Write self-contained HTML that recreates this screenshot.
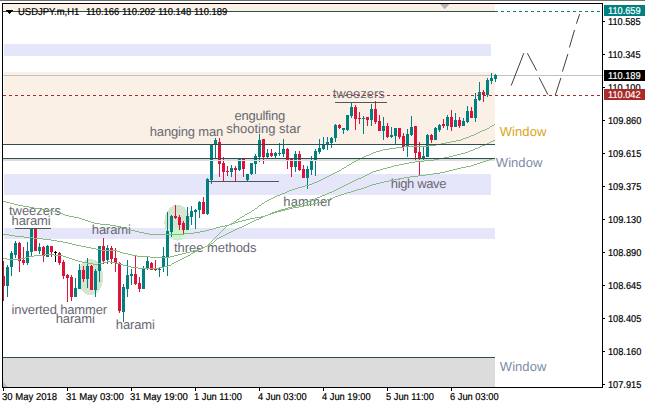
<!DOCTYPE html>
<html><head><meta charset="utf-8"><title>USDJPY H1</title>
<style>
html,body{margin:0;padding:0;background:#fff;}
body{width:645px;height:408px;position:relative;overflow:hidden;font-family:"Liberation Sans",sans-serif;text-rendering:geometricPrecision;}
div{position:absolute;}
.b{background:#e6e6fa;}
.lb{font-size:13px;line-height:15px;height:15px;white-space:nowrap;letter-spacing:-0.2px;}
.pr{-webkit-text-stroke:0.2px #000;left:608px;font-size:10px;line-height:12px;height:12px;letter-spacing:0;transform:scaleX(0.92);transform-origin:0 0;color:#000;white-space:nowrap;}
.tk{left:603px;width:2px;height:1px;background:#000;}
.vt{top:388px;width:1px;height:3px;background:#000;}
.tm{-webkit-text-stroke:0.2px #000;top:392px;font-size:10px;line-height:12px;letter-spacing:0;transform-origin:0 0;color:#000;white-space:nowrap;}
.hd{-webkit-text-stroke:0.2px #000;top:7px;font-size:10px;line-height:12px;letter-spacing:0;transform:scaleX(0.94);transform-origin:0 0;color:#000;white-space:nowrap;}
.bx{left:604px;width:41px;height:11px;color:#fff;-webkit-text-stroke:0.2px #fff;font-size:10px;line-height:11px;letter-spacing:-0.45px;}
.bx span{position:absolute;left:4px;top:1px;line-height:12px;letter-spacing:0;transform:scaleX(0.92);transform-origin:0 0;}
svg{position:absolute;left:0;top:0;}
</style></head><body>
<div style="left:0;top:0;width:645px;height:1px;background:#707070"></div>
<!-- background bands -->
<div style="left:3px;top:4px;width:492px;height:7px;background:#faf0e6"></div>
<div class="b" style="left:4px;top:44px;width:487px;height:12px"></div>
<div style="left:4px;top:72px;width:491px;height:72px;background:#faf0e6"></div>
<div class="b" style="left:4px;top:174px;width:487px;height:21px"></div>
<div class="b" style="left:4px;top:228px;width:491px;height:11px"></div>
<div style="left:3px;top:358px;width:492px;height:29px;background:#dcdcdc"></div>
<svg width="645" height="408" viewBox="0 0 645 408" shape-rendering="crispEdges">
<defs><clipPath id="lv"><rect x="4" y="228" width="491" height="11"/></clipPath></defs>
<!-- ellipses -->
<ellipse cx="90.4" cy="277.1" rx="12.8" ry="18.1" fill="#d5e5d0"/>
<ellipse cx="177.4" cy="222.6" rx="13" ry="18" fill="#d5e5d0"/>
<ellipse cx="177.4" cy="222.6" rx="13" ry="18" fill="#cdf5cd" clip-path="url(#lv)"/>
<!-- bid line (behind candles) -->
<rect x="3" y="159" width="492" height="1" fill="#dcdcdc"/>
<rect x="3" y="75" width="601" height="1" fill="#c0c0c0"/>
<polygon points="3,382 3,387 8,387" fill="#b8b8b8" shape-rendering="auto"/>
<polygon points="440,4 449.5,4 444.7,9.2" fill="#b4b4b4" shape-rendering="auto"/>
<rect x="3" y="261" width="1" height="40" fill="#dc143c"/><rect x="2" y="276" width="3" height="10" fill="#dc143c"/><rect x="7" y="265" width="1" height="32" fill="#008080"/><rect x="6" y="267" width="3" height="19" fill="#008080"/><rect x="11" y="251" width="1" height="25" fill="#008080"/><rect x="10" y="253" width="3" height="14" fill="#008080"/><rect x="15" y="241" width="1" height="17" fill="#008080"/><rect x="14" y="243" width="3" height="12" fill="#008080"/><rect x="19" y="242" width="1" height="30" fill="#dc143c"/><rect x="18" y="243" width="3" height="18" fill="#dc143c"/><rect x="23" y="247" width="1" height="18" fill="#dc143c"/><rect x="22" y="260" width="3" height="3" fill="#dc143c"/><rect x="27" y="242" width="1" height="23" fill="#008080"/><rect x="26" y="251" width="3" height="12" fill="#008080"/><rect x="31" y="229" width="1" height="28" fill="#008080"/><rect x="30" y="229" width="3" height="23" fill="#008080"/><rect x="35" y="229" width="1" height="22" fill="#dc143c"/><rect x="34" y="229" width="3" height="22" fill="#dc143c"/><rect x="39" y="243" width="1" height="11" fill="#008080"/><rect x="38" y="247" width="3" height="4" fill="#008080"/><rect x="43" y="246" width="1" height="16" fill="#dc143c"/><rect x="42" y="247" width="3" height="9" fill="#dc143c"/><rect x="47" y="245" width="1" height="12" fill="#008080"/><rect x="46" y="246" width="3" height="11" fill="#008080"/><rect x="51" y="246" width="1" height="11" fill="#dc143c"/><rect x="50" y="246" width="3" height="6" fill="#dc143c"/><rect x="55" y="251" width="1" height="11" fill="#000"/><rect x="54" y="252" width="3" height="1" fill="#000"/><rect x="59" y="252" width="1" height="13" fill="#dc143c"/><rect x="58" y="253" width="3" height="10" fill="#dc143c"/><rect x="63" y="260" width="1" height="19" fill="#dc143c"/><rect x="62" y="262" width="3" height="14" fill="#dc143c"/><rect x="67" y="274" width="1" height="28" fill="#dc143c"/><rect x="66" y="275" width="3" height="3" fill="#dc143c"/><rect x="71" y="275" width="1" height="26" fill="#dc143c"/><rect x="70" y="277" width="3" height="20" fill="#dc143c"/><rect x="75" y="278" width="1" height="19" fill="#008080"/><rect x="74" y="288" width="3" height="9" fill="#008080"/><rect x="79" y="264" width="1" height="25" fill="#008080"/><rect x="78" y="270" width="3" height="19" fill="#008080"/><rect x="83" y="266" width="1" height="16" fill="#dc143c"/><rect x="82" y="270" width="3" height="9" fill="#dc143c"/><rect x="87" y="258" width="1" height="30" fill="#008080"/><rect x="86" y="266" width="3" height="13" fill="#008080"/><rect x="91" y="265" width="1" height="25" fill="#dc143c"/><rect x="90" y="266" width="3" height="24" fill="#dc143c"/><rect x="95" y="269" width="1" height="28" fill="#008080"/><rect x="94" y="271" width="3" height="19" fill="#008080"/><rect x="99" y="246" width="1" height="36" fill="#008080"/><rect x="98" y="246" width="3" height="25" fill="#008080"/><rect x="103" y="238" width="1" height="26" fill="#dc143c"/><rect x="102" y="246" width="3" height="15" fill="#dc143c"/><rect x="107" y="245" width="1" height="19" fill="#008080"/><rect x="106" y="248" width="3" height="12" fill="#008080"/><rect x="111" y="246" width="1" height="18" fill="#dc143c"/><rect x="110" y="248" width="3" height="11" fill="#dc143c"/><rect x="115" y="248" width="1" height="24" fill="#dc143c"/><rect x="114" y="258" width="3" height="5" fill="#dc143c"/><rect x="119" y="262" width="1" height="51" fill="#dc143c"/><rect x="118" y="263" width="3" height="48" fill="#dc143c"/><rect x="123" y="284" width="1" height="38" fill="#008080"/><rect x="122" y="287" width="3" height="25" fill="#008080"/><rect x="127" y="260" width="1" height="37" fill="#008080"/><rect x="126" y="275" width="3" height="14" fill="#008080"/><rect x="131" y="269" width="1" height="16" fill="#008080"/><rect x="130" y="274" width="3" height="2" fill="#008080"/><rect x="135" y="256" width="1" height="29" fill="#dc143c"/><rect x="134" y="274" width="3" height="10" fill="#dc143c"/><rect x="139" y="277" width="1" height="15" fill="#dc143c"/><rect x="138" y="283" width="3" height="6" fill="#dc143c"/><rect x="143" y="266" width="1" height="23" fill="#008080"/><rect x="142" y="268" width="3" height="21" fill="#008080"/><rect x="147" y="257" width="1" height="13" fill="#008080"/><rect x="146" y="261" width="3" height="7" fill="#008080"/><rect x="151" y="262" width="1" height="8" fill="#dc143c"/><rect x="150" y="263" width="3" height="7" fill="#dc143c"/><rect x="155" y="260" width="1" height="11" fill="#dc143c"/><rect x="154" y="269" width="3" height="1" fill="#dc143c"/><rect x="159" y="267" width="1" height="10" fill="#008080"/><rect x="158" y="269" width="3" height="1" fill="#008080"/><rect x="163" y="247" width="1" height="25" fill="#008080"/><rect x="162" y="256" width="3" height="11" fill="#008080"/><rect x="167" y="212" width="1" height="64" fill="#008080"/><rect x="166" y="231" width="3" height="26" fill="#008080"/><rect x="171" y="215" width="1" height="22" fill="#008080"/><rect x="170" y="216" width="3" height="16" fill="#008080"/><rect x="175" y="205" width="1" height="14" fill="#dc143c"/><rect x="174" y="216" width="3" height="2" fill="#dc143c"/><rect x="179" y="215" width="1" height="15" fill="#dc143c"/><rect x="178" y="217" width="3" height="8" fill="#dc143c"/><rect x="183" y="221" width="1" height="13" fill="#dc143c"/><rect x="182" y="223" width="3" height="7" fill="#dc143c"/><rect x="187" y="207" width="1" height="23" fill="#008080"/><rect x="186" y="216" width="3" height="14" fill="#008080"/><rect x="191" y="206" width="1" height="19" fill="#008080"/><rect x="190" y="211" width="3" height="6" fill="#008080"/><rect x="195" y="209" width="1" height="20" fill="#008080"/><rect x="194" y="210" width="3" height="2" fill="#008080"/><rect x="199" y="201" width="1" height="17" fill="#008080"/><rect x="198" y="202" width="3" height="8" fill="#008080"/><rect x="203" y="197" width="1" height="17" fill="#dc143c"/><rect x="202" y="202" width="3" height="12" fill="#dc143c"/><rect x="207" y="178" width="1" height="37" fill="#008080"/><rect x="206" y="179" width="3" height="35" fill="#008080"/><rect x="211" y="144" width="1" height="40" fill="#008080"/><rect x="210" y="144" width="3" height="36" fill="#008080"/><rect x="215" y="138" width="1" height="20" fill="#008080"/><rect x="214" y="140" width="3" height="5" fill="#008080"/><rect x="219" y="138" width="1" height="39" fill="#dc143c"/><rect x="218" y="142" width="3" height="22" fill="#dc143c"/><rect x="223" y="157" width="1" height="24" fill="#dc143c"/><rect x="222" y="163" width="3" height="9" fill="#dc143c"/><rect x="227" y="166" width="1" height="10" fill="#dc143c"/><rect x="226" y="171" width="3" height="1" fill="#dc143c"/><rect x="231" y="165" width="1" height="12" fill="#008080"/><rect x="230" y="168" width="3" height="4" fill="#008080"/><rect x="235" y="166" width="1" height="15" fill="#dc143c"/><rect x="234" y="168" width="3" height="2" fill="#dc143c"/><rect x="239" y="159" width="1" height="12" fill="#008080"/><rect x="238" y="159" width="3" height="11" fill="#008080"/><rect x="243" y="159" width="1" height="18" fill="#dc143c"/><rect x="242" y="159" width="3" height="10" fill="#dc143c"/><rect x="247" y="174" width="1" height="7" fill="#008080"/><rect x="246" y="174" width="3" height="6" fill="#008080"/><rect x="251" y="163" width="1" height="12" fill="#008080"/><rect x="250" y="163" width="3" height="11" fill="#008080"/><rect x="255" y="154" width="1" height="20" fill="#008080"/><rect x="254" y="156" width="3" height="8" fill="#008080"/><rect x="259" y="134" width="1" height="28" fill="#008080"/><rect x="258" y="140" width="3" height="17" fill="#008080"/><rect x="263" y="139" width="1" height="25" fill="#dc143c"/><rect x="262" y="139" width="3" height="18" fill="#dc143c"/><rect x="267" y="149" width="1" height="9" fill="#008080"/><rect x="266" y="153" width="3" height="4" fill="#008080"/><rect x="271" y="149" width="1" height="8" fill="#dc143c"/><rect x="270" y="153" width="3" height="3" fill="#dc143c"/><rect x="275" y="152" width="1" height="6" fill="#008080"/><rect x="274" y="153" width="3" height="3" fill="#008080"/><rect x="279" y="143" width="1" height="13" fill="#008080"/><rect x="278" y="153" width="3" height="1" fill="#008080"/><rect x="283" y="139" width="1" height="18" fill="#008080"/><rect x="282" y="149" width="3" height="5" fill="#008080"/><rect x="287" y="148" width="1" height="21" fill="#dc143c"/><rect x="286" y="149" width="3" height="11" fill="#dc143c"/><rect x="291" y="159" width="1" height="18" fill="#dc143c"/><rect x="290" y="159" width="3" height="8" fill="#dc143c"/><rect x="295" y="151" width="1" height="21" fill="#008080"/><rect x="294" y="154" width="3" height="13" fill="#008080"/><rect x="299" y="151" width="1" height="20" fill="#dc143c"/><rect x="298" y="154" width="3" height="16" fill="#dc143c"/><rect x="303" y="165" width="1" height="13" fill="#dc143c"/><rect x="302" y="169" width="3" height="9" fill="#dc143c"/><rect x="307" y="166" width="1" height="23" fill="#008080"/><rect x="306" y="169" width="3" height="9" fill="#008080"/><rect x="311" y="156" width="1" height="19" fill="#008080"/><rect x="310" y="161" width="3" height="9" fill="#008080"/><rect x="315" y="149" width="1" height="27" fill="#008080"/><rect x="314" y="151" width="3" height="9" fill="#008080"/><rect x="319" y="139" width="1" height="15" fill="#008080"/><rect x="318" y="148" width="3" height="4" fill="#008080"/><rect x="323" y="137" width="1" height="13" fill="#008080"/><rect x="322" y="144" width="3" height="5" fill="#008080"/><rect x="327" y="137" width="1" height="13" fill="#008080"/><rect x="326" y="142" width="3" height="2" fill="#008080"/><rect x="331" y="137" width="1" height="11" fill="#008080"/><rect x="330" y="138" width="3" height="5" fill="#008080"/><rect x="335" y="124" width="1" height="18" fill="#008080"/><rect x="334" y="125" width="3" height="13" fill="#008080"/><rect x="339" y="124" width="1" height="5" fill="#dc143c"/><rect x="338" y="125" width="3" height="3" fill="#dc143c"/><rect x="343" y="128" width="1" height="6" fill="#008080"/><rect x="342" y="128" width="3" height="2" fill="#008080"/><rect x="347" y="115" width="1" height="16" fill="#008080"/><rect x="346" y="115" width="3" height="15" fill="#008080"/><rect x="351" y="103" width="1" height="15" fill="#008080"/><rect x="350" y="107" width="3" height="9" fill="#008080"/><rect x="355" y="105" width="1" height="25" fill="#dc143c"/><rect x="354" y="107" width="3" height="12" fill="#dc143c"/><rect x="359" y="112" width="1" height="12" fill="#dc143c"/><rect x="358" y="118" width="3" height="1" fill="#dc143c"/><rect x="363" y="116" width="1" height="18" fill="#008080"/><rect x="362" y="118" width="3" height="1" fill="#008080"/><rect x="367" y="117" width="1" height="9" fill="#dc143c"/><rect x="366" y="117" width="3" height="3" fill="#dc143c"/><rect x="371" y="104" width="1" height="22" fill="#008080"/><rect x="370" y="109" width="3" height="11" fill="#008080"/><rect x="375" y="101" width="1" height="23" fill="#dc143c"/><rect x="374" y="109" width="3" height="13" fill="#dc143c"/><rect x="379" y="115" width="1" height="16" fill="#dc143c"/><rect x="378" y="121" width="3" height="10" fill="#dc143c"/><rect x="383" y="117" width="1" height="23" fill="#008080"/><rect x="382" y="126" width="3" height="5" fill="#008080"/><rect x="387" y="123" width="1" height="15" fill="#dc143c"/><rect x="386" y="126" width="3" height="11" fill="#dc143c"/><rect x="391" y="127" width="1" height="11" fill="#008080"/><rect x="390" y="135" width="3" height="2" fill="#008080"/><rect x="395" y="128" width="1" height="16" fill="#008080"/><rect x="394" y="128" width="3" height="8" fill="#008080"/><rect x="399" y="128" width="1" height="11" fill="#dc143c"/><rect x="398" y="128" width="3" height="9" fill="#dc143c"/><rect x="403" y="133" width="1" height="18" fill="#dc143c"/><rect x="402" y="136" width="3" height="11" fill="#dc143c"/><rect x="407" y="129" width="1" height="28" fill="#008080"/><rect x="406" y="134" width="3" height="13" fill="#008080"/><rect x="411" y="116" width="1" height="20" fill="#008080"/><rect x="410" y="127" width="3" height="8" fill="#008080"/><rect x="415" y="126" width="1" height="34" fill="#dc143c"/><rect x="414" y="126" width="3" height="27" fill="#dc143c"/><rect x="419" y="142" width="1" height="33" fill="#dc143c"/><rect x="418" y="152" width="3" height="7" fill="#dc143c"/><rect x="423" y="146" width="1" height="16" fill="#008080"/><rect x="422" y="156" width="3" height="3" fill="#008080"/><rect x="427" y="134" width="1" height="23" fill="#008080"/><rect x="426" y="135" width="3" height="22" fill="#008080"/><rect x="431" y="134" width="1" height="9" fill="#dc143c"/><rect x="430" y="135" width="3" height="5" fill="#dc143c"/><rect x="435" y="127" width="1" height="13" fill="#008080"/><rect x="434" y="128" width="3" height="12" fill="#008080"/><rect x="439" y="124" width="1" height="8" fill="#008080"/><rect x="438" y="125" width="3" height="5" fill="#008080"/><rect x="443" y="119" width="1" height="9" fill="#dc143c"/><rect x="442" y="124" width="3" height="2" fill="#dc143c"/><rect x="447" y="115" width="1" height="15" fill="#008080"/><rect x="446" y="117" width="3" height="9" fill="#008080"/><rect x="451" y="110" width="1" height="21" fill="#dc143c"/><rect x="450" y="117" width="3" height="10" fill="#dc143c"/><rect x="455" y="113" width="1" height="14" fill="#008080"/><rect x="454" y="120" width="3" height="7" fill="#008080"/><rect x="459" y="117" width="1" height="11" fill="#dc143c"/><rect x="458" y="120" width="3" height="6" fill="#dc143c"/><rect x="463" y="118" width="1" height="8" fill="#008080"/><rect x="462" y="121" width="3" height="5" fill="#008080"/><rect x="467" y="106" width="1" height="17" fill="#008080"/><rect x="466" y="111" width="3" height="11" fill="#008080"/><rect x="471" y="107" width="1" height="11" fill="#dc143c"/><rect x="470" y="111" width="3" height="7" fill="#dc143c"/><rect x="475" y="93" width="1" height="29" fill="#008080"/><rect x="474" y="99" width="3" height="19" fill="#008080"/><rect x="479" y="82" width="1" height="19" fill="#008080"/><rect x="478" y="92" width="3" height="8" fill="#008080"/><rect x="483" y="90" width="1" height="12" fill="#dc143c"/><rect x="482" y="92" width="3" height="3" fill="#dc143c"/><rect x="487" y="78" width="1" height="19" fill="#008080"/><rect x="486" y="80" width="3" height="15" fill="#008080"/><rect x="491" y="73" width="1" height="11" fill="#008080"/><rect x="490" y="78" width="3" height="3" fill="#008080"/><rect x="495" y="74" width="1" height="8" fill="#008080"/><rect x="494" y="75" width="3" height="4" fill="#008080"/>
<!-- horizontal lines (in front of candles) -->
<rect x="3" y="11" width="492" height="1" fill="#2f4f4f"/>
<line x1="495" y1="11.5" x2="601" y2="11.5" stroke="#008080" stroke-dasharray="3 3"/>
<line x1="3" y1="95.5" x2="602" y2="95.5" stroke="#a82a2a" stroke-dasharray="3 3"/>
<rect x="3" y="144" width="492" height="1" fill="#2f4f4f"/>
<rect x="3" y="158" width="492" height="1" fill="#2f4f4f"/>
<rect x="3" y="160" width="492" height="1" fill="#dcdcdc"/>
<rect x="3" y="357" width="492" height="1" fill="#2f4f4f"/>
<!-- marker lines -->
<rect x="15" y="228" width="36" height="1" fill="#555"/>
<rect x="207" y="181" width="72" height="1" fill="#555"/>
<rect x="335" y="102" width="52" height="1" fill="#555"/>
<!-- projection zigzag -->
<g stroke="#404040" stroke-width="1" fill="none" shape-rendering="auto">
<line x1="511.2" y1="85.6" x2="523.8" y2="53.2"/>
<line x1="527.4" y1="53.2" x2="536.6" y2="70.6"/>
<line x1="539.1" y1="77.5" x2="547.9" y2="94.7"/>
<line x1="555.3" y1="95.1" x2="560.9" y2="77.9"/>
<line x1="562.4" y1="71.6" x2="567.9" y2="54"/>
<line x1="569.4" y1="47.4" x2="574.5" y2="30"/>
<line x1="576.4" y1="23.7" x2="579.7" y2="14.1"/>
</g>
<!-- frame -->
<rect x="2" y="3" width="601" height="1" fill="#000"/>
<rect x="2" y="3" width="1" height="385" fill="#000"/>
<rect x="602" y="3" width="1" height="385" fill="#000"/>
<rect x="2" y="387" width="601" height="1" fill="#000"/>
<path d="M6 10h7v1h-1v1h-1v1h-1v1h-1v-1h-1v-1h-1v-1h-1z" fill="#000"/>
</svg>
<div class="lb" style="left:8.9px;top:203px;color:#686872;letter-spacing:0px">tweezers</div><div class="lb" style="left:11.6px;top:213px;color:#686872;letter-spacing:-0.13px">harami</div><div class="lb" style="left:91.8px;top:222px;color:#686872;letter-spacing:-0.13px">harami</div><div class="lb" style="left:11.6px;top:302px;color:#686872;letter-spacing:-0.14px">inverted hammer</div><div class="lb" style="left:55.7px;top:311px;color:#686872;letter-spacing:-0.13px">harami</div><div class="lb" style="left:115.8px;top:317px;color:#686872;letter-spacing:-0.13px">harami</div><div class="lb" style="left:174.0px;top:240px;color:#686872;letter-spacing:-0.05px">three methods</div><div class="lb" style="left:149.8px;top:124px;color:#686872;letter-spacing:-0.17px">hanging man</div><div class="lb" style="left:234.5px;top:108px;color:#686872;letter-spacing:-0.26px">engulfing</div><div class="lb" style="left:226.3px;top:121px;color:#686872;letter-spacing:0px">shooting star</div><div class="lb" style="left:283.3px;top:194px;color:#686872;letter-spacing:0.12px">hammer</div><div class="lb" style="left:332.7px;top:86px;color:#686872;letter-spacing:0px">tweezers</div><div class="lb" style="left:390.8px;top:176px;color:#686872;letter-spacing:-0.37px">high wave</div><div class="lb" style="left:499.7px;top:124px;color:#daa520;letter-spacing:0.08px">Window</div><div class="lb" style="left:495.8px;top:155px;color:#7d8ca6;letter-spacing:0.06px">Window</div><div class="lb" style="left:499.8px;top:359px;color:#7d8ca6;letter-spacing:0.06px">Window</div>
<svg width="645" height="408" viewBox="0 0 645 408" shape-rendering="crispEdges"><g fill="#88b983"><rect x="3" y="201" width="3" height="1"/><rect x="6" y="202" width="4" height="1"/><rect x="10" y="203" width="4" height="1"/><rect x="14" y="204" width="4" height="1"/><rect x="18" y="205" width="5" height="1"/><rect x="23" y="206" width="6" height="1"/><rect x="29" y="207" width="5" height="1"/><rect x="34" y="208" width="6" height="1"/><rect x="40" y="209" width="6" height="1"/><rect x="46" y="210" width="7" height="1"/><rect x="53" y="211" width="4" height="1"/><rect x="57" y="212" width="3" height="1"/><rect x="60" y="213" width="3" height="1"/><rect x="63" y="214" width="2" height="1"/><rect x="65" y="215" width="4" height="1"/><rect x="69" y="216" width="5" height="1"/><rect x="74" y="217" width="5" height="1"/><rect x="79" y="218" width="3" height="1"/><rect x="82" y="219" width="3" height="1"/><rect x="85" y="220" width="3" height="1"/><rect x="88" y="221" width="3" height="1"/><rect x="91" y="222" width="3" height="1"/><rect x="94" y="223" width="6" height="1"/><rect x="100" y="224" width="10" height="1"/><rect x="110" y="225" width="6" height="1"/><rect x="116" y="226" width="5" height="1"/><rect x="121" y="227" width="3" height="1"/><rect x="124" y="228" width="3" height="1"/><rect x="127" y="229" width="4" height="1"/><rect x="131" y="230" width="4" height="1"/><rect x="135" y="231" width="4" height="1"/><rect x="139" y="232" width="5" height="1"/><rect x="144" y="233" width="5" height="1"/><rect x="149" y="234" width="35" height="1"/><rect x="184" y="233" width="10" height="1"/><rect x="194" y="232" width="6" height="1"/><rect x="200" y="231" width="5" height="1"/><rect x="205" y="230" width="4" height="1"/><rect x="209" y="229" width="4" height="1"/><rect x="213" y="228" width="3" height="1"/><rect x="216" y="227" width="4" height="1"/><rect x="220" y="226" width="5" height="1"/><rect x="225" y="225" width="4" height="1"/><rect x="229" y="224" width="3" height="1"/><rect x="232" y="223" width="3" height="1"/><rect x="235" y="222" width="3" height="1"/><rect x="238" y="221" width="4" height="1"/><rect x="242" y="220" width="4" height="1"/><rect x="246" y="219" width="4" height="1"/><rect x="250" y="218" width="5" height="1"/><rect x="255" y="217" width="6" height="1"/><rect x="261" y="216" width="4" height="1"/><rect x="265" y="215" width="3" height="1"/><rect x="268" y="214" width="3" height="1"/><rect x="271" y="213" width="3" height="1"/><rect x="274" y="212" width="3" height="1"/><rect x="277" y="211" width="4" height="1"/><rect x="281" y="210" width="4" height="1"/><rect x="285" y="209" width="4" height="1"/><rect x="289" y="208" width="4" height="1"/><rect x="293" y="207" width="6" height="1"/><rect x="299" y="206" width="5" height="1"/><rect x="304" y="205" width="5" height="1"/><rect x="309" y="204" width="4" height="1"/><rect x="313" y="203" width="4" height="1"/><rect x="317" y="202" width="4" height="1"/><rect x="321" y="201" width="3" height="1"/><rect x="324" y="200" width="3" height="1"/><rect x="327" y="199" width="3" height="1"/><rect x="330" y="198" width="3" height="1"/><rect x="333" y="197" width="2" height="1"/><rect x="335" y="196" width="3" height="1"/><rect x="338" y="195" width="3" height="1"/><rect x="341" y="194" width="3" height="1"/><rect x="344" y="193" width="3" height="1"/><rect x="347" y="192" width="4" height="1"/><rect x="351" y="191" width="3" height="1"/><rect x="354" y="190" width="3" height="1"/><rect x="357" y="189" width="4" height="1"/><rect x="361" y="188" width="3" height="1"/><rect x="364" y="187" width="3" height="1"/><rect x="367" y="186" width="2" height="1"/><rect x="369" y="185" width="3" height="1"/><rect x="372" y="184" width="4" height="1"/><rect x="376" y="183" width="4" height="1"/><rect x="380" y="182" width="4" height="1"/><rect x="384" y="181" width="5" height="1"/><rect x="389" y="180" width="5" height="1"/><rect x="394" y="179" width="5" height="1"/><rect x="399" y="178" width="5" height="1"/><rect x="404" y="177" width="6" height="1"/><rect x="410" y="176" width="8" height="1"/><rect x="418" y="175" width="8" height="1"/><rect x="426" y="174" width="7" height="1"/><rect x="433" y="173" width="7" height="1"/><rect x="440" y="172" width="5" height="1"/><rect x="445" y="171" width="4" height="1"/><rect x="449" y="170" width="4" height="1"/><rect x="453" y="169" width="4" height="1"/><rect x="457" y="168" width="4" height="1"/><rect x="461" y="167" width="5" height="1"/><rect x="466" y="166" width="5" height="1"/><rect x="471" y="165" width="3" height="1"/><rect x="474" y="164" width="3" height="1"/><rect x="477" y="163" width="3" height="1"/><rect x="480" y="162" width="3" height="1"/><rect x="483" y="161" width="3" height="1"/><rect x="486" y="160" width="3" height="1"/><rect x="489" y="159" width="3" height="1"/><rect x="492" y="158" width="3" height="1"/><rect x="3" y="234" width="6" height="1"/><rect x="9" y="235" width="6" height="1"/><rect x="15" y="236" width="9" height="1"/><rect x="24" y="237" width="9" height="1"/><rect x="33" y="238" width="10" height="1"/><rect x="43" y="239" width="8" height="1"/><rect x="51" y="240" width="6" height="1"/><rect x="57" y="241" width="6" height="1"/><rect x="63" y="242" width="5" height="1"/><rect x="68" y="243" width="4" height="1"/><rect x="72" y="244" width="4" height="1"/><rect x="76" y="245" width="5" height="1"/><rect x="81" y="246" width="5" height="1"/><rect x="86" y="247" width="5" height="1"/><rect x="91" y="248" width="5" height="1"/><rect x="96" y="249" width="5" height="1"/><rect x="101" y="250" width="16" height="1"/><rect x="117" y="251" width="3" height="1"/><rect x="120" y="252" width="3" height="1"/><rect x="123" y="253" width="5" height="1"/><rect x="128" y="254" width="4" height="1"/><rect x="132" y="255" width="5" height="1"/><rect x="137" y="256" width="13" height="1"/><rect x="150" y="257" width="20" height="1"/><rect x="170" y="256" width="4" height="1"/><rect x="174" y="255" width="4" height="1"/><rect x="178" y="254" width="4" height="1"/><rect x="182" y="253" width="4" height="1"/><rect x="186" y="252" width="4" height="1"/><rect x="190" y="251" width="3" height="1"/><rect x="193" y="250" width="4" height="1"/><rect x="197" y="249" width="4" height="1"/><rect x="201" y="248" width="2" height="1"/><rect x="203" y="247" width="2" height="1"/><rect x="205" y="246" width="2" height="1"/><rect x="207" y="245" width="2" height="1"/><rect x="209" y="244" width="2" height="1"/><rect x="211" y="243" width="2" height="1"/><rect x="213" y="242" width="1" height="1"/><rect x="214" y="241" width="1" height="1"/><rect x="215" y="240" width="1" height="1"/><rect x="216" y="239" width="1" height="1"/><rect x="217" y="238" width="2" height="1"/><rect x="219" y="237" width="2" height="1"/><rect x="221" y="236" width="2" height="1"/><rect x="223" y="235" width="2" height="1"/><rect x="225" y="234" width="2" height="1"/><rect x="227" y="233" width="2" height="1"/><rect x="229" y="232" width="2" height="1"/><rect x="231" y="231" width="2" height="1"/><rect x="233" y="230" width="2" height="1"/><rect x="235" y="229" width="2" height="1"/><rect x="237" y="228" width="2" height="1"/><rect x="239" y="227" width="3" height="1"/><rect x="242" y="226" width="2" height="1"/><rect x="244" y="225" width="2" height="1"/><rect x="246" y="224" width="2" height="1"/><rect x="248" y="223" width="2" height="1"/><rect x="250" y="222" width="2" height="1"/><rect x="252" y="221" width="2" height="1"/><rect x="254" y="220" width="2" height="1"/><rect x="256" y="219" width="3" height="1"/><rect x="259" y="218" width="2" height="1"/><rect x="261" y="217" width="2" height="1"/><rect x="263" y="216" width="2" height="1"/><rect x="265" y="215" width="3" height="1"/><rect x="268" y="214" width="2" height="1"/><rect x="270" y="213" width="2" height="1"/><rect x="272" y="212" width="3" height="1"/><rect x="275" y="211" width="3" height="1"/><rect x="278" y="210" width="3" height="1"/><rect x="281" y="209" width="4" height="1"/><rect x="285" y="208" width="3" height="1"/><rect x="288" y="207" width="4" height="1"/><rect x="292" y="206" width="4" height="1"/><rect x="296" y="205" width="3" height="1"/><rect x="299" y="204" width="3" height="1"/><rect x="302" y="203" width="3" height="1"/><rect x="305" y="202" width="3" height="1"/><rect x="308" y="201" width="2" height="1"/><rect x="310" y="200" width="3" height="1"/><rect x="313" y="199" width="2" height="1"/><rect x="315" y="198" width="2" height="1"/><rect x="317" y="197" width="3" height="1"/><rect x="320" y="196" width="2" height="1"/><rect x="322" y="195" width="3" height="1"/><rect x="325" y="194" width="2" height="1"/><rect x="327" y="193" width="2" height="1"/><rect x="329" y="192" width="3" height="1"/><rect x="332" y="191" width="2" height="1"/><rect x="334" y="190" width="2" height="1"/><rect x="336" y="189" width="2" height="1"/><rect x="338" y="188" width="2" height="1"/><rect x="340" y="187" width="2" height="1"/><rect x="342" y="186" width="2" height="1"/><rect x="344" y="185" width="2" height="1"/><rect x="346" y="184" width="2" height="1"/><rect x="348" y="183" width="2" height="1"/><rect x="350" y="182" width="2" height="1"/><rect x="352" y="181" width="2" height="1"/><rect x="354" y="180" width="2" height="1"/><rect x="356" y="179" width="2" height="1"/><rect x="358" y="178" width="3" height="1"/><rect x="361" y="177" width="2" height="1"/><rect x="363" y="176" width="2" height="1"/><rect x="365" y="175" width="2" height="1"/><rect x="367" y="174" width="2" height="1"/><rect x="369" y="173" width="2" height="1"/><rect x="371" y="172" width="2" height="1"/><rect x="373" y="171" width="3" height="1"/><rect x="376" y="170" width="4" height="1"/><rect x="380" y="169" width="3" height="1"/><rect x="383" y="168" width="4" height="1"/><rect x="387" y="167" width="4" height="1"/><rect x="391" y="166" width="3" height="1"/><rect x="394" y="165" width="5" height="1"/><rect x="399" y="164" width="5" height="1"/><rect x="404" y="163" width="5" height="1"/><rect x="409" y="162" width="6" height="1"/><rect x="415" y="161" width="9" height="1"/><rect x="424" y="160" width="10" height="1"/><rect x="434" y="159" width="5" height="1"/><rect x="439" y="158" width="5" height="1"/><rect x="444" y="157" width="5" height="1"/><rect x="449" y="156" width="4" height="1"/><rect x="453" y="155" width="4" height="1"/><rect x="457" y="154" width="4" height="1"/><rect x="461" y="153" width="4" height="1"/><rect x="465" y="152" width="3" height="1"/><rect x="468" y="151" width="2" height="1"/><rect x="470" y="150" width="3" height="1"/><rect x="473" y="149" width="2" height="1"/><rect x="475" y="148" width="3" height="1"/><rect x="478" y="147" width="2" height="1"/><rect x="480" y="146" width="2" height="1"/><rect x="482" y="145" width="3" height="1"/><rect x="485" y="144" width="2" height="1"/><rect x="487" y="143" width="2" height="1"/><rect x="489" y="142" width="2" height="1"/><rect x="491" y="141" width="2" height="1"/><rect x="493" y="140" width="2" height="1"/><rect x="3" y="258" width="4" height="1"/><rect x="7" y="259" width="13" height="1"/><rect x="20" y="258" width="5" height="1"/><rect x="25" y="257" width="4" height="1"/><rect x="29" y="256" width="5" height="1"/><rect x="34" y="255" width="10" height="1"/><rect x="44" y="254" width="10" height="1"/><rect x="54" y="255" width="9" height="1"/><rect x="63" y="256" width="3" height="1"/><rect x="66" y="257" width="3" height="1"/><rect x="69" y="258" width="3" height="1"/><rect x="72" y="259" width="3" height="1"/><rect x="75" y="260" width="3" height="1"/><rect x="78" y="261" width="4" height="1"/><rect x="82" y="262" width="5" height="1"/><rect x="87" y="263" width="6" height="1"/><rect x="93" y="264" width="5" height="1"/><rect x="98" y="263" width="5" height="1"/><rect x="103" y="262" width="4" height="1"/><rect x="107" y="261" width="3" height="1"/><rect x="110" y="262" width="6" height="1"/><rect x="116" y="263" width="4" height="1"/><rect x="120" y="264" width="3" height="1"/><rect x="123" y="265" width="4" height="1"/><rect x="127" y="266" width="4" height="1"/><rect x="131" y="267" width="7" height="1"/><rect x="138" y="268" width="21" height="1"/><rect x="159" y="267" width="5" height="1"/><rect x="164" y="266" width="4" height="1"/><rect x="168" y="265" width="3" height="1"/><rect x="171" y="264" width="1" height="1"/><rect x="172" y="263" width="2" height="1"/><rect x="174" y="262" width="2" height="1"/><rect x="176" y="261" width="2" height="1"/><rect x="178" y="260" width="2" height="1"/><rect x="180" y="259" width="2" height="1"/><rect x="182" y="258" width="2" height="1"/><rect x="184" y="257" width="2" height="1"/><rect x="186" y="256" width="2" height="1"/><rect x="188" y="255" width="2" height="1"/><rect x="190" y="254" width="1" height="1"/><rect x="191" y="253" width="2" height="1"/><rect x="193" y="252" width="2" height="1"/><rect x="195" y="251" width="2" height="1"/><rect x="197" y="250" width="1" height="1"/><rect x="198" y="249" width="2" height="1"/><rect x="200" y="248" width="3" height="1"/><rect x="203" y="247" width="2" height="1"/><rect x="205" y="246" width="2" height="1"/><rect x="207" y="245" width="1" height="1"/><rect x="208" y="244" width="1" height="1"/><rect x="209" y="243" width="1" height="1"/><rect x="210" y="242" width="1" height="1"/><rect x="211" y="241" width="1" height="1"/><rect x="212" y="240" width="1" height="1"/><rect x="213" y="239" width="1" height="1"/><rect x="214" y="238" width="1" height="1"/><rect x="215" y="237" width="1" height="1"/><rect x="216" y="236" width="1" height="1"/><rect x="217" y="235" width="1" height="1"/><rect x="218" y="234" width="1" height="1"/><rect x="219" y="233" width="1" height="1"/><rect x="220" y="232" width="1" height="1"/><rect x="221" y="231" width="1" height="1"/><rect x="222" y="230" width="1" height="1"/><rect x="223" y="229" width="1" height="1"/><rect x="224" y="228" width="1" height="1"/><rect x="225" y="227" width="1" height="1"/><rect x="226" y="226" width="1" height="1"/><rect x="227" y="225" width="2" height="1"/><rect x="229" y="224" width="2" height="1"/><rect x="231" y="223" width="2" height="1"/><rect x="233" y="222" width="1" height="1"/><rect x="234" y="221" width="2" height="1"/><rect x="236" y="220" width="1" height="1"/><rect x="237" y="219" width="2" height="1"/><rect x="239" y="218" width="1" height="1"/><rect x="240" y="217" width="2" height="1"/><rect x="242" y="216" width="2" height="1"/><rect x="244" y="215" width="1" height="1"/><rect x="245" y="214" width="2" height="1"/><rect x="247" y="213" width="2" height="1"/><rect x="249" y="212" width="2" height="1"/><rect x="251" y="211" width="1" height="1"/><rect x="252" y="210" width="2" height="1"/><rect x="254" y="209" width="1" height="1"/><rect x="255" y="208" width="2" height="1"/><rect x="257" y="207" width="1" height="1"/><rect x="258" y="206" width="1" height="1"/><rect x="259" y="205" width="2" height="1"/><rect x="261" y="204" width="1" height="1"/><rect x="262" y="203" width="2" height="1"/><rect x="264" y="202" width="1" height="1"/><rect x="265" y="201" width="2" height="1"/><rect x="267" y="200" width="2" height="1"/><rect x="269" y="199" width="2" height="1"/><rect x="271" y="198" width="2" height="1"/><rect x="273" y="197" width="2" height="1"/><rect x="275" y="196" width="2" height="1"/><rect x="277" y="195" width="3" height="1"/><rect x="280" y="194" width="2" height="1"/><rect x="282" y="193" width="3" height="1"/><rect x="285" y="192" width="2" height="1"/><rect x="287" y="191" width="2" height="1"/><rect x="289" y="190" width="3" height="1"/><rect x="292" y="189" width="3" height="1"/><rect x="295" y="188" width="3" height="1"/><rect x="298" y="187" width="4" height="1"/><rect x="302" y="186" width="3" height="1"/><rect x="305" y="185" width="4" height="1"/><rect x="309" y="184" width="3" height="1"/><rect x="312" y="183" width="2" height="1"/><rect x="314" y="182" width="3" height="1"/><rect x="317" y="181" width="2" height="1"/><rect x="319" y="180" width="2" height="1"/><rect x="321" y="179" width="2" height="1"/><rect x="323" y="178" width="2" height="1"/><rect x="325" y="177" width="2" height="1"/><rect x="327" y="176" width="2" height="1"/><rect x="329" y="175" width="2" height="1"/><rect x="331" y="174" width="2" height="1"/><rect x="333" y="173" width="2" height="1"/><rect x="335" y="172" width="2" height="1"/><rect x="337" y="171" width="2" height="1"/><rect x="339" y="170" width="2" height="1"/><rect x="341" y="169" width="1" height="1"/><rect x="342" y="168" width="2" height="1"/><rect x="344" y="167" width="2" height="1"/><rect x="346" y="166" width="1" height="1"/><rect x="347" y="165" width="2" height="1"/><rect x="349" y="164" width="2" height="1"/><rect x="351" y="163" width="1" height="1"/><rect x="352" y="162" width="2" height="1"/><rect x="354" y="161" width="2" height="1"/><rect x="356" y="160" width="2" height="1"/><rect x="358" y="159" width="2" height="1"/><rect x="360" y="158" width="2" height="1"/><rect x="362" y="157" width="2" height="1"/><rect x="364" y="156" width="2" height="1"/><rect x="366" y="155" width="3" height="1"/><rect x="369" y="154" width="2" height="1"/><rect x="371" y="153" width="2" height="1"/><rect x="373" y="152" width="3" height="1"/><rect x="376" y="151" width="4" height="1"/><rect x="380" y="150" width="3" height="1"/><rect x="383" y="149" width="6" height="1"/><rect x="389" y="148" width="7" height="1"/><rect x="396" y="147" width="8" height="1"/><rect x="404" y="146" width="24" height="1"/><rect x="428" y="145" width="8" height="1"/><rect x="436" y="144" width="5" height="1"/><rect x="441" y="143" width="5" height="1"/><rect x="446" y="142" width="5" height="1"/><rect x="451" y="141" width="5" height="1"/><rect x="456" y="140" width="5" height="1"/><rect x="461" y="139" width="2" height="1"/><rect x="463" y="138" width="3" height="1"/><rect x="466" y="137" width="3" height="1"/><rect x="469" y="136" width="2" height="1"/><rect x="471" y="135" width="3" height="1"/><rect x="474" y="134" width="2" height="1"/><rect x="476" y="133" width="2" height="1"/><rect x="478" y="132" width="2" height="1"/><rect x="480" y="131" width="2" height="1"/><rect x="482" y="130" width="3" height="1"/><rect x="485" y="129" width="2" height="1"/><rect x="487" y="128" width="2" height="1"/><rect x="489" y="127" width="1" height="1"/><rect x="490" y="126" width="2" height="1"/><rect x="492" y="125" width="2" height="1"/><rect x="494" y="124" width="1" height="1"/></g><rect x="3" y="144" width="492" height="1" fill="#2f4f4f"/><rect x="3" y="158" width="492" height="1" fill="#2f4f4f"/></svg>
<div class="hd" style="left:18px;transform:scaleX(0.945)">USDJPY.m,H1</div>
<div class="hd" style="left:86.3px">110.166</div>
<div class="hd" style="left:122.3px">110.202</div>
<div class="hd" style="left:158.3px">110.148</div>
<div class="hd" style="left:194px">110.189</div>
<div class="tk" style="top:21px"></div><div class="pr" style="top:17px">110.585</div><div class="tk" style="top:54px"></div><div class="pr" style="top:50px">110.345</div><div class="tk" style="top:87px"></div><div class="pr" style="top:83px">110.100</div><div class="tk" style="top:120px"></div><div class="pr" style="top:116px">109.860</div><div class="tk" style="top:153px"></div><div class="pr" style="top:149px">109.615</div><div class="tk" style="top:186px"></div><div class="pr" style="top:182px">109.375</div><div class="tk" style="top:219px"></div><div class="pr" style="top:215px">109.130</div><div class="tk" style="top:252px"></div><div class="pr" style="top:248px">108.890</div><div class="tk" style="top:285px"></div><div class="pr" style="top:281px">108.645</div><div class="tk" style="top:318px"></div><div class="pr" style="top:314px">108.405</div><div class="tk" style="top:351px"></div><div class="pr" style="top:347px">108.160</div><div class="tk" style="top:384px"></div><div class="pr" style="top:380px">107.915</div>
<div class="vt" style="left:3px"></div><div class="tm" style="left:2px;transform:scaleX(0.953);">30 May 2018</div><div class="vt" style="left:67px"></div><div class="tm" style="left:66px;transform:scaleX(0.953);">31 May 03:00</div><div class="vt" style="left:131px"></div><div class="tm" style="left:130px;transform:scaleX(0.953);">31 May 19:00</div><div class="vt" style="left:195px"></div><div class="tm" style="left:194px;transform:scaleX(0.93);">1 Jun 11:00</div><div class="vt" style="left:259px"></div><div class="tm" style="left:258px;transform:scaleX(0.93);">4 Jun 03:00</div><div class="vt" style="left:323px"></div><div class="tm" style="left:322px;transform:scaleX(0.93);">4 Jun 19:00</div><div class="vt" style="left:387px"></div><div class="tm" style="left:386px;transform:scaleX(0.93);">5 Jun 11:00</div><div class="vt" style="left:451px"></div><div class="tm" style="left:450px;transform:scaleX(0.93);">6 Jun 03:00</div>
<div class="bx" style="top:5px;background:#008080"><span>110.659</span></div>
<div class="bx" style="top:70px;background:#000"><span>110.189</span></div>
<div class="bx" style="top:89px;background:#a82a2a"><span>110.042</span></div>
</body></html>
